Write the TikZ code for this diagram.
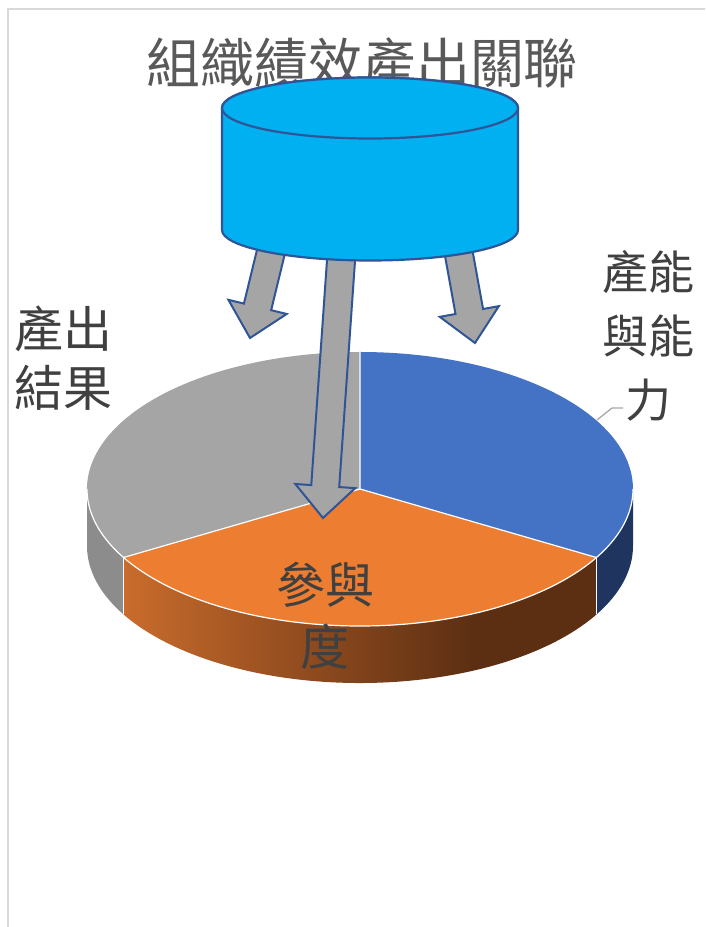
\documentclass[tikz,border=0pt]{standalone}
\usepackage{fontspec}
\setmainfont{Noto Sans CJK TC}
\usetikzlibrary{calc}
\definecolor{titlegray}{HTML}{595959}
\definecolor{labelgray}{HTML}{404040}
\definecolor{framegray}{HTML}{D9D9D9}
\definecolor{pieblue}{HTML}{4472C4}
\definecolor{pieorange}{HTML}{ED7D31}
\definecolor{piegray}{HTML}{A5A5A5}
\definecolor{sidegray}{HTML}{8C8C8C}
\definecolor{sideblue}{HTML}{1F3560}
\definecolor{oleft}{HTML}{C96C2C}
\definecolor{omid}{HTML}{8E4A1E}
\definecolor{odark}{HTML}{5C2F13}
\definecolor{cylfill}{HTML}{00B0F0}
\definecolor{outlineblue}{HTML}{2F5597}
\definecolor{leadergray}{HTML}{A6A6A6}
\pgfdeclarehorizontalshading{orangeside}{100bp}{color(0bp)=(oleft); color(25bp)=(oleft); color(45bp)=(omid); color(62bp)=(odark); color(100bp)=(odark)}
\tikzset{
  blockarr/.style={fill=piegray, draw=outlineblue, line width=2pt, line join=miter},
  cylstyle/.style={fill=cylfill, draw=outlineblue, line width=2.2pt},
  sep/.style={white, line width=1.2pt},
  lbl/.style={text=labelgray, align=center, inner sep=0pt},
  pa/.style={x radius=273, y radius=137},
}
\newcommand\blockarrow[3]{%
  \coordinate (#3se) at ($(#2)!32pt!(#1)$);
  \draw[blockarr] ($(#1)!14pt!-90:(#2)$) -- ($(#1)!14pt!90:(#2)$)
    -- ($(#3se)!14pt!-90:(#1)$) -- ($(#3se)!30pt!-90:(#1)$) -- (#2)
    -- ($(#3se)!30pt!90:(#1)$) -- ($(#3se)!14pt!90:(#1)$) -- cycle;}
\begin{document}
\begin{tikzpicture}[x=1pt,y=1pt]
\useasboundingbox (0,0) rectangle (705,927);
\fill[white] (0,0) rectangle (705,927);
% frame
\draw[framegray, line width=1.5pt] (8,0) -- (8,918) -- (705,918);
% title
\node[text=titlegray, inner sep=0pt, font=\fontsize{54}{60}\selectfont] (title) at (362,864) {組織績效產出關聯};
% pie
\coordinate (pc) at (360,438);
\fill[sidegray] ($(pc)+(180:273 and 137)$) arc[start angle=180,end angle=210,pa] -- ++(0,-57) arc[start angle=210,end angle=180,pa] -- cycle;
\shade[shading=orangeside] ($(pc)+(210:273 and 137)$) arc[start angle=210,end angle=330,pa] -- ++(0,-57) arc[start angle=330,end angle=210,pa] -- cycle;
\fill[sideblue] ($(pc)+(330:273 and 137)$) arc[start angle=330,end angle=360,pa] -- ++(0,-57) arc[start angle=360,end angle=330,pa] -- cycle;
\fill[pieblue] (pc) -- ($(pc)+(90:273 and 137)$) arc[start angle=90,end angle=-30,pa] -- cycle;
\fill[pieorange] (pc) -- ($(pc)+(-30:273 and 137)$) arc[start angle=-30,end angle=-150,pa] -- cycle;
\fill[piegray] (pc) -- ($(pc)+(-150:273 and 137)$) arc[start angle=-150,end angle=-270,pa] -- cycle;
\draw[sep] ($(pc)+(90:273 and 137)$) -- (pc) -- ($(pc)+(-30:273 and 137)$);
\draw[sep] (pc) -- ($(pc)+(-150:273 and 137)$);
\draw[sep] ($(pc)+(180:273 and 137)$) arc[start angle=180,end angle=360,pa];
\draw[sep] ($(pc)+(210:273 and 137)$) -- ++(0,-57);
\draw[sep] ($(pc)+(330:273 and 137)$) -- ++(0,-57);
% labels
\node[lbl, font=\fontsize{49}{59}\selectfont] (outres) at (64,569) {產出\\結果};
\node[lbl, font=\fontsize{46}{64}\selectfont] (capab) at (648,591) {產能\\與能\\力};
\node[lbl, font=\fontsize{49}{62}\selectfont] (partic) at (325,311) {參與\\度};
% leader
\coordinate (ldA) at (597,507);
\coordinate (ldB) at (612,519);
\coordinate (ldC) at (623,519);
\draw[leadergray, line width=1.2pt] (ldA) -- (ldB) -- (ldC);
% arrows
\coordinate (aLs) at (272.9,683.3); \coordinate (aLt) at (250,589);
\coordinate (aMs) at (341.4,672);   \coordinate (aMt) at (323,409);
\coordinate (aRs) at (457.9,678.4); \coordinate (aRt) at (475,584);
\blockarrow{aLs}{aLt}{aL}
\blockarrow{aMs}{aMt}{aM}
\blockarrow{aRs}{aRt}{aR}
% cylinder
\draw[cylstyle] (222,819) -- (222,697) arc[start angle=180,end angle=360,x radius=148,y radius=30.5] -- (518,819) arc[start angle=0,end angle=180,x radius=148,y radius=30.5] -- cycle;
\draw[cylstyle] (370,819) ellipse[x radius=148,y radius=30.5];
\end{tikzpicture}
\end{document}
